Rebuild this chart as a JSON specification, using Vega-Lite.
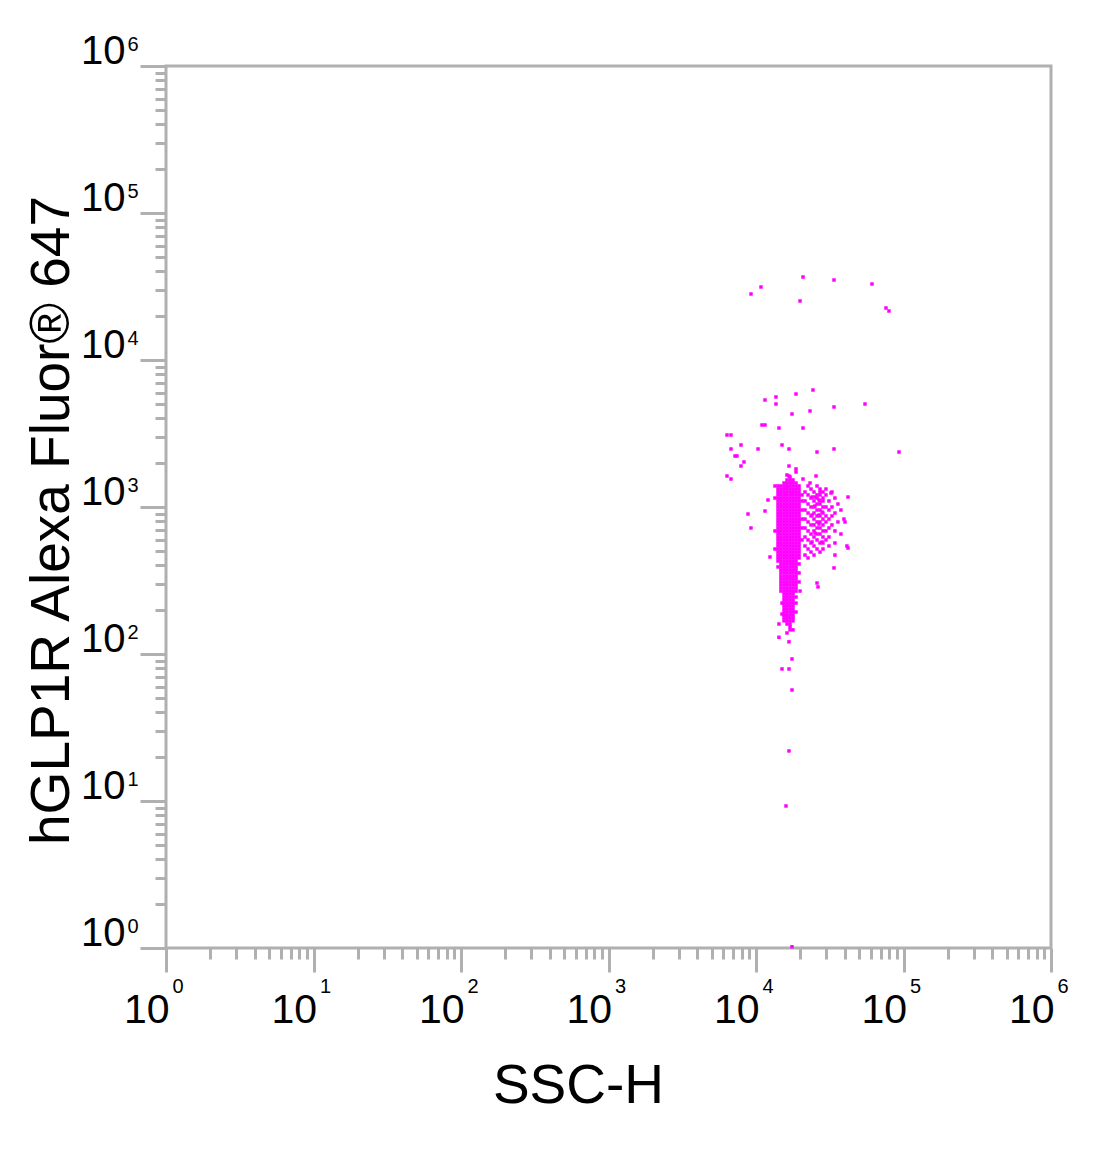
{
"$schema": "https://vega.github.io/schema/vega-lite/v6.json",
"width": 885,
"height": 882,
"autosize": "none",
"padding": {"left": 166, "top": 66, "right": 49, "bottom": 218},
"background": "white",
"data": {"values": [
{"x":18680,"y":1730},{"x":16220,"y":1651},{"x":17010,"y":1600},
{"x":16220,"y":1527},{"x":17010,"y":1527},{"x":17820,"y":1527},
{"x":15490,"y":1456},{"x":16220,"y":1456},{"x":17010,"y":1456},{"x":17820,"y":1456},{"x":18680,"y":1456},
{"x":13450,"y":1390},{"x":14100,"y":1390},{"x":14760,"y":1390},{"x":15490,"y":1390},{"x":16220,"y":1390},{"x":17010,"y":1390},{"x":17820,"y":1390},{"x":18680,"y":1390},{"x":19580,"y":1390},
{"x":14100,"y":1325},{"x":14760,"y":1325},{"x":15490,"y":1325},{"x":16220,"y":1325},{"x":17010,"y":1325},{"x":17820,"y":1325},{"x":18680,"y":1325},{"x":19580,"y":1325},
{"x":14100,"y":1265},{"x":14760,"y":1265},{"x":15490,"y":1265},{"x":16220,"y":1265},{"x":17010,"y":1265},{"x":17820,"y":1265},{"x":18680,"y":1265},{"x":19580,"y":1265},
{"x":14100,"y":1208},{"x":14760,"y":1208},{"x":15490,"y":1208},{"x":16220,"y":1208},{"x":17010,"y":1208},{"x":17820,"y":1208},{"x":18680,"y":1208},{"x":19580,"y":1208},{"x":20510,"y":1208},
{"x":13450,"y":1151},{"x":14100,"y":1151},{"x":14760,"y":1151},{"x":15490,"y":1151},{"x":16220,"y":1151},{"x":17010,"y":1151},{"x":17820,"y":1151},{"x":18680,"y":1151},{"x":19580,"y":1151},
{"x":14100,"y":1099},{"x":14760,"y":1099},{"x":15490,"y":1099},{"x":16220,"y":1099},{"x":17010,"y":1099},{"x":17820,"y":1099},{"x":18680,"y":1099},{"x":19580,"y":1099},{"x":20510,"y":1099},
{"x":14100,"y":1048},{"x":14760,"y":1048},{"x":15490,"y":1048},{"x":16220,"y":1048},{"x":17010,"y":1048},{"x":17820,"y":1048},{"x":18680,"y":1048},{"x":19580,"y":1048},
{"x":14100,"y":1000},{"x":14760,"y":1000},{"x":15490,"y":1000},{"x":16220,"y":1000},{"x":17010,"y":1000},{"x":17820,"y":1000},{"x":18680,"y":1000},{"x":19580,"y":1000},
{"x":14100,"y":954},{"x":14760,"y":954},{"x":15490,"y":954},{"x":16220,"y":954},{"x":17010,"y":954},{"x":17820,"y":954},{"x":18680,"y":954},{"x":19580,"y":954},{"x":20510,"y":954},
{"x":14100,"y":910},{"x":14760,"y":910},{"x":15490,"y":910},{"x":16220,"y":910},{"x":17010,"y":910},{"x":17820,"y":910},{"x":18680,"y":910},{"x":19580,"y":910},
{"x":14100,"y":869},{"x":14760,"y":869},{"x":15490,"y":869},{"x":16220,"y":869},{"x":17010,"y":869},{"x":17820,"y":869},{"x":18680,"y":869},{"x":19580,"y":869},
{"x":14100,"y":828},{"x":14760,"y":828},{"x":15490,"y":828},{"x":16220,"y":828},{"x":17010,"y":828},{"x":17820,"y":828},{"x":18680,"y":828},{"x":19580,"y":828},{"x":20510,"y":828},
{"x":14100,"y":791},{"x":14760,"y":791},{"x":15490,"y":791},{"x":16220,"y":791},{"x":17010,"y":791},{"x":17820,"y":791},{"x":18680,"y":791},{"x":19580,"y":791},
{"x":14100,"y":755},{"x":14760,"y":755},{"x":15490,"y":755},{"x":16220,"y":755},{"x":17010,"y":755},{"x":17820,"y":755},{"x":18680,"y":755},{"x":19580,"y":755},
{"x":14100,"y":720},{"x":14760,"y":720},{"x":15490,"y":720},{"x":16220,"y":720},{"x":17010,"y":720},{"x":17820,"y":720},{"x":18680,"y":720},{"x":19580,"y":720},{"x":20510,"y":720},
{"x":13450,"y":687},{"x":14100,"y":687},{"x":14760,"y":687},{"x":15490,"y":687},{"x":16220,"y":687},{"x":17010,"y":687},{"x":17820,"y":687},{"x":18680,"y":687},{"x":19580,"y":687},
{"x":14100,"y":655},{"x":14760,"y":655},{"x":15490,"y":655},{"x":16220,"y":655},{"x":17010,"y":655},{"x":17820,"y":655},{"x":18680,"y":655},{"x":19580,"y":655},
{"x":14100,"y":625},{"x":14760,"y":625},{"x":15490,"y":625},{"x":16220,"y":625},{"x":17010,"y":625},{"x":17820,"y":625},{"x":18680,"y":625},{"x":19580,"y":625},
{"x":14100,"y":597},{"x":14760,"y":597},{"x":15490,"y":597},{"x":16220,"y":597},{"x":17010,"y":597},{"x":17820,"y":597},{"x":18680,"y":597},{"x":19580,"y":597},{"x":20510,"y":597},
{"x":14100,"y":569},{"x":14760,"y":569},{"x":15490,"y":569},{"x":16220,"y":569},{"x":17010,"y":569},{"x":17820,"y":569},{"x":18680,"y":569},{"x":19580,"y":569},
{"x":14100,"y":543},{"x":14760,"y":543},{"x":15490,"y":543},{"x":16220,"y":543},{"x":17010,"y":543},{"x":17820,"y":543},{"x":18680,"y":543},{"x":19580,"y":543},
{"x":13450,"y":518},{"x":14100,"y":518},{"x":14760,"y":518},{"x":15490,"y":518},{"x":16220,"y":518},{"x":17010,"y":518},{"x":17820,"y":518},{"x":18680,"y":518},{"x":19580,"y":518},
{"x":14100,"y":494},{"x":14760,"y":494},{"x":15490,"y":494},{"x":16220,"y":494},{"x":17010,"y":494},{"x":17820,"y":494},{"x":18680,"y":494},{"x":19580,"y":494},
{"x":14100,"y":471},{"x":14760,"y":471},{"x":15490,"y":471},{"x":16220,"y":471},{"x":17010,"y":471},{"x":17820,"y":471},{"x":18680,"y":471},{"x":19580,"y":471},
{"x":14100,"y":450},{"x":14760,"y":450},{"x":15490,"y":450},{"x":16220,"y":450},{"x":17010,"y":450},{"x":17820,"y":450},{"x":18680,"y":450},{"x":19580,"y":450},
{"x":14100,"y":429},{"x":14760,"y":429},{"x":15490,"y":429},{"x":16220,"y":429},{"x":17010,"y":429},{"x":17820,"y":429},{"x":18680,"y":429},
{"x":14760,"y":410},{"x":15490,"y":410},{"x":16220,"y":410},{"x":17010,"y":410},{"x":17820,"y":410},{"x":18680,"y":410},{"x":19580,"y":410},
{"x":14100,"y":391},{"x":14760,"y":391},{"x":15490,"y":391},{"x":16220,"y":391},{"x":17010,"y":391},{"x":17820,"y":391},{"x":18680,"y":391},
{"x":14760,"y":373},{"x":15490,"y":373},{"x":16220,"y":373},{"x":17010,"y":373},{"x":17820,"y":373},{"x":18680,"y":373},
{"x":14760,"y":356},{"x":15490,"y":356},{"x":16220,"y":356},{"x":17010,"y":356},{"x":17820,"y":356},{"x":18680,"y":356},{"x":19580,"y":356},
{"x":14760,"y":339},{"x":15490,"y":339},{"x":16220,"y":339},{"x":17010,"y":339},{"x":17820,"y":339},{"x":18680,"y":339},
{"x":14760,"y":324},{"x":15490,"y":324},{"x":16220,"y":324},{"x":17010,"y":324},{"x":17820,"y":324},{"x":18680,"y":324},
{"x":14760,"y":309},{"x":15490,"y":309},{"x":16220,"y":309},{"x":17010,"y":309},{"x":17820,"y":309},{"x":18680,"y":309},{"x":19580,"y":309},
{"x":14760,"y":295},{"x":15490,"y":295},{"x":16220,"y":295},{"x":17010,"y":295},{"x":17820,"y":295},{"x":18680,"y":295},
{"x":14760,"y":281},{"x":15490,"y":281},{"x":16220,"y":281},{"x":17010,"y":281},{"x":17820,"y":281},{"x":18680,"y":281},
{"x":14760,"y":268},{"x":15490,"y":268},{"x":16220,"y":268},{"x":17010,"y":268},{"x":17820,"y":268},{"x":18680,"y":268},
{"x":15490,"y":256},{"x":16220,"y":256},{"x":17010,"y":256},{"x":17820,"y":256},
{"x":15490,"y":244},{"x":16220,"y":244},{"x":17010,"y":244},{"x":17820,"y":244},{"x":18680,"y":244},
{"x":15490,"y":233},{"x":16220,"y":233},{"x":17010,"y":233},{"x":17820,"y":233},
{"x":15490,"y":222},{"x":16220,"y":222},{"x":17010,"y":222},{"x":17820,"y":222},{"x":18680,"y":222},
{"x":15490,"y":212},{"x":16220,"y":212},{"x":17010,"y":212},{"x":17820,"y":212},
{"x":15490,"y":202},{"x":16220,"y":202},{"x":17010,"y":202},{"x":17820,"y":202},
{"x":15490,"y":193},{"x":16220,"y":193},{"x":17010,"y":193},{"x":17820,"y":193},{"x":18680,"y":193},
{"x":15490,"y":184},{"x":16220,"y":184},{"x":17010,"y":184},{"x":17820,"y":184},
{"x":15490,"y":176},{"x":16220,"y":176},{"x":17010,"y":176},{"x":17820,"y":176},
{"x":15490,"y":168},{"x":16220,"y":168},{"x":17010,"y":168},{"x":17820,"y":168},
{"x":16220,"y":160},{"x":17010,"y":160},{"x":17010,"y":153},{"x":17010,"y":146},{"x":17820,"y":146},{"x":16220,"y":139},
{"x":22530,"y":1390},{"x":25920,"y":1390},
{"x":23600,"y":1325},{"x":27160,"y":1325},{"x":29810,"y":1325},
{"x":21490,"y":1265},{"x":24730,"y":1265},{"x":27160,"y":1265},{"x":28450,"y":1265},{"x":32730,"y":1265},
{"x":22530,"y":1208},{"x":25920,"y":1208},{"x":27160,"y":1208},{"x":29810,"y":1208},
{"x":23600,"y":1151},{"x":25920,"y":1151},{"x":28450,"y":1151},{"x":34300,"y":1151},
{"x":21490,"y":1099},{"x":24730,"y":1099},{"x":27160,"y":1099},{"x":28450,"y":1099},{"x":31240,"y":1099},
{"x":22530,"y":1048},{"x":25920,"y":1048},{"x":27160,"y":1048},{"x":35940,"y":1048},
{"x":23600,"y":1000},{"x":24730,"y":1000},{"x":28450,"y":1000},{"x":29810,"y":1000},{"x":32730,"y":1000},
{"x":21490,"y":954},{"x":25920,"y":954},{"x":27160,"y":954},{"x":31240,"y":954},{"x":37660,"y":954},
{"x":22530,"y":910},{"x":24730,"y":910},{"x":28450,"y":910},{"x":34300,"y":910},
{"x":23600,"y":869},{"x":25920,"y":869},{"x":27160,"y":869},{"x":29810,"y":869},{"x":32730,"y":869},
{"x":21490,"y":828},{"x":24730,"y":828},{"x":28450,"y":828},{"x":31240,"y":828},{"x":39460,"y":828},
{"x":22530,"y":791},{"x":25920,"y":791},{"x":27160,"y":791},{"x":29810,"y":791},{"x":35940,"y":791},
{"x":23600,"y":755},{"x":24730,"y":755},{"x":28450,"y":755},{"x":32730,"y":755},
{"x":21490,"y":720},{"x":25920,"y":720},{"x":27160,"y":720},{"x":31240,"y":720},
{"x":22530,"y":687},{"x":24730,"y":687},{"x":28450,"y":687},{"x":29810,"y":687},{"x":34300,"y":687},
{"x":23600,"y":655},{"x":25920,"y":655},{"x":27160,"y":655},{"x":37660,"y":655},
{"x":21490,"y":625},{"x":24730,"y":625},{"x":28450,"y":625},{"x":31240,"y":625},
{"x":22530,"y":597},{"x":25920,"y":597},{"x":29810,"y":597},
{"x":23600,"y":569},{"x":27160,"y":569},{"x":28450,"y":569},{"x":34300,"y":569},
{"x":21490,"y":543},{"x":24730,"y":543},{"x":31240,"y":543},{"x":41350,"y":543},
{"x":22530,"y":518},{"x":25920,"y":518},{"x":28450,"y":518},
{"x":23600,"y":494},{"x":27160,"y":494},
{"x":21490,"y":471},{"x":24730,"y":471},{"x":34300,"y":471},
{"x":22530,"y":450},
{"x":23970,"y":1169},{"x":25120,"y":1169},{"x":26740,"y":1116},{"x":25120,"y":1016},{"x":28020,"y":925},
{"x":23970,"y":882},{"x":26740,"y":882},{"x":26740,"y":766},{"x":25120,"y":665},{"x":28020,"y":578},{"x":23970,"y":578},
{"x":20830,"y":36690},{"x":10810,"y":31380},{"x":9250,"y":28120},{"x":33790,"y":35010},{"x":61140,"y":32890},
{"x":19880,"y":25200},{"x":76090,"y":22580},{"x":79730,"y":21540},
{"x":24350,"y":6250},{"x":18670,"y":5871},{"x":13660,"y":5602},{"x":11510,"y":5345},{"x":13660,"y":5020},
{"x":33790,"y":4790},{"x":54830,"y":5020},{"x":23240,"y":4499},{"x":17540,"y":4292},
{"x":10980,"y":3613},{"x":11510,"y":3613},{"x":14310,"y":3446},{"x":20830,"y":3446},
{"x":6360,"y":3089},{"x":6768,"y":3089},{"x":7914,"y":2641},{"x":15010,"y":2641},
{"x":6768,"y":2481},{"x":10320,"y":2481},{"x":16740,"y":2481},{"x":25920,"y":2366},{"x":33790,"y":2481},{"x":93220,"y":2366},
{"x":7204,"y":2223},{"x":7432,"y":2223},{"x":8289,"y":2024},{"x":7914,"y":1900},{"x":16740,"y":1900},{"x":18670,"y":1814},
{"x":6360,"y":1625},{"x":16740,"y":1625},{"x":25520,"y":1625},{"x":6768,"y":1550},{"x":20830,"y":1550},{"x":23240,"y":1456},
{"x":12060,"y":1116},{"x":8826,"y":896},{"x":11510,"y":939},{"x":9250,"y":720},
{"x":42050,"y":1169},{"x":32250,"y":1245},{"x":40120,"y":791},{"x":42050,"y":526},{"x":33790,"y":385},
{"x":12440,"y":457},{"x":15010,"y":222},{"x":15010,"y":187},{"x":14310,"y":160},{"x":14310,"y":130},
{"x":16740,"y":121},{"x":17540,"y":92.5},{"x":15010,"y":79.1},{"x":16740,"y":79.1},{"x":17540,"y":56.9},
{"x":16740,"y":21.9},{"x":15970,"y":9.25},{"x":17540,"y":1.02},
{"x":19880,"y":268},{"x":25920,"y":304},{"x":26320,"y":286}
]},
"layer": [
{
"mark": {"type": "square", "size": 12, "color": "#ff00ff", "opacity": 1, "strokeWidth": 0},
"encoding": {
"x": {"field": "x", "type": "quantitative", "scale": {"type": "log", "domain": [1, 1000000], "nice": false},
"axis": {"orient": "bottom", "values": [1, 10, 100, 1000, 10000, 100000, 1000000], "tickSize": 24, "labelExpr": "'10'", "labelFontSize": 41, "labelAlign": "right", "labelOffset": 3, "labelBaseline": "alphabetic", "labelPadding": 50,
"title": "SSC-H", "titleFontSize": 55, "titleFontWeight": "normal", "titleX": 412, "titleY": 154, "titleAlign": "center", "titleBaseline": "alphabetic"}},
"y": {"field": "y", "type": "quantitative", "scale": {"type": "log", "domain": [1, 1000000], "nice": false},
"axis": {"orient": "left", "values": [1, 10, 100, 1000, 10000, 100000, 1000000], "tickSize": 26, "labelExpr": "'10'", "labelFontSize": 40, "labelAlign": "right", "labelBaseline": "alphabetic", "labelOffset": -3, "labelPadding": 15,
"title": "hGLP1R Alexa Fluor® 647", "titleFontSize": 55, "titleFontWeight": "normal", "titleX": -98, "titleY": 454, "titleAngle": 270, "titleAlign": "center", "titleBaseline": "alphabetic"}}
}
},
{
"mark": {"type": "point", "opacity": 0},
"encoding": {
"x": {"field": "x", "type": "quantitative", "scale": {"type": "log", "domain": [1, 1000000], "nice": false},
"axis": {"orient": "bottom", "values": [2,3,4,5,6,7,8,9,20,30,40,50,60,70,80,90,200,300,400,500,600,700,800,900,2000,3000,4000,5000,6000,7000,8000,9000,20000,30000,40000,50000,60000,70000,80000,90000,200000,300000,400000,500000,600000,700000,800000,900000], "tickSize": 11, "labels": false, "title": null}},
"y": {"field": "y", "type": "quantitative", "scale": {"type": "log", "domain": [1, 1000000], "nice": false},
"axis": {"orient": "left", "values": [2,3,4,5,6,7,8,9,20,30,40,50,60,70,80,90,200,300,400,500,600,700,800,900,2000,3000,4000,5000,6000,7000,8000,9000,20000,30000,40000,50000,60000,70000,80000,90000,200000,300000,400000,500000,600000,700000,800000,900000], "tickSize": 11, "labels": false, "title": null}}
}
},
{
"mark": {"type": "point", "opacity": 0},
"encoding": {
"x": {"field": "x", "type": "quantitative", "scale": {"type": "log", "domain": [1, 1000000], "nice": false},
"axis": {"orient": "bottom", "values": [1, 10, 100, 1000, 10000, 100000, 1000000], "ticks": false, "labelExpr": "'' + round(log(datum.value) / LN10)", "labelFontSize": 20, "labelAlign": "left", "labelOffset": 6, "labelBaseline": "alphabetic", "labelPadding": 44, "title": null}},
"y": {"field": "y", "type": "quantitative", "scale": {"type": "log", "domain": [1, 1000000], "nice": false},
"axis": {"orient": "left", "values": [1, 10, 100, 1000, 10000, 100000, 1000000], "ticks": false, "labelExpr": "'' + round(log(datum.value) / LN10)", "labelFontSize": 20, "labelAlign": "left", "labelBaseline": "alphabetic", "labelOffset": -16, "labelPadding": 39, "title": null}}
}
}
],
"resolve": {"axis": {"x": "independent", "y": "independent"}},
"config": {
"view": {"stroke": "#b0b0b0", "strokeWidth": 3},
"axis": {"grid": false, "domain": false, "labelFont": "Liberation Sans", "titleFont": "Liberation Sans", "tickColor": "#b0b0b0", "tickWidth": 3, "labelColor": "#000000", "titleColor": "#000000", "labelOverlap": false, "labelFlush": false, "labelBound": false}
}
}
